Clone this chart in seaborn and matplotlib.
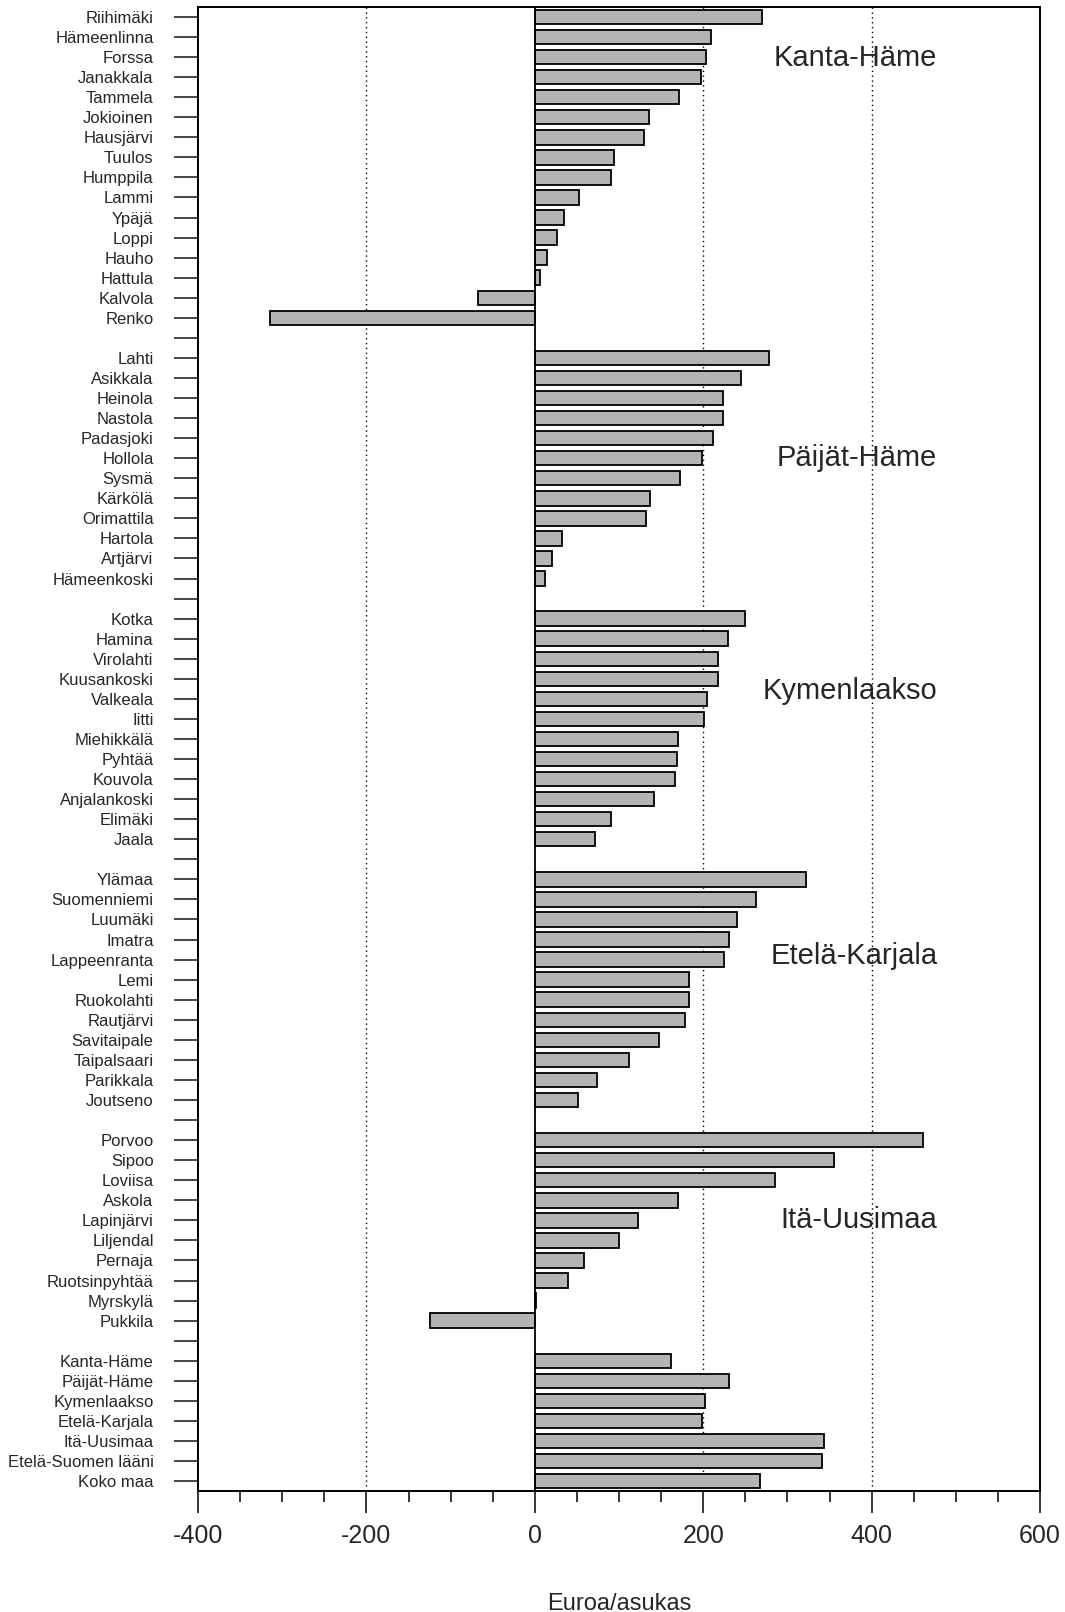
import pandas as pd
import matplotlib
matplotlib.use('Agg')
import matplotlib.pyplot as plt
from matplotlib.ticker import MultipleLocator
import seaborn as sns

# kunnat ryhmittäin, euroa/asukas
kanta_hame = ['Riihimäki', 'Hämeenlinna', 'Forssa', 'Janakkala', 'Tammela', 'Jokioinen',
              'Hausjärvi', 'Tuulos', 'Humppila', 'Lammi', 'Ypäjä', 'Loppi', 'Hauho',
              'Hattula', 'Kalvola', 'Renko']
kanta_hame_vals = [270, 209, 203, 197, 171, 136, 130, 94, 91, 52, 35, 26, 14, 6, -67, -315]

paijat_hame = ['Lahti', 'Asikkala', 'Heinola', 'Nastola', 'Padasjoki', 'Hollola', 'Sysmä',
               'Kärkölä', 'Orimattila', 'Hartola', 'Artjärvi', 'Hämeenkoski']
paijat_hame_vals = [278, 245, 224, 223, 212, 199, 172, 137, 132, 32, 20, 12]

kymenlaakso = ['Kotka', 'Hamina', 'Virolahti', 'Kuusankoski', 'Valkeala', 'Iitti',
               'Miehikkälä', 'Pyhtää', 'Kouvola', 'Anjalankoski', 'Elimäki', 'Jaala']
kymenlaakso_vals = [250, 229, 217, 217, 205, 201, 170, 169, 166, 141, 91, 71]

etela_karjala = ['Ylämaa', 'Suomenniemi', 'Luumäki', 'Imatra', 'Lappeenranta', 'Lemi',
                 'Ruokolahti', 'Rautjärvi', 'Savitaipale', 'Taipalsaari', 'Parikkala', 'Joutseno']
etela_karjala_vals = [322, 263, 240, 231, 225, 183, 183, 178, 148, 112, 74, 51]

ita_uusimaa = ['Porvoo', 'Sipoo', 'Loviisa', 'Askola', 'Lapinjärvi', 'Liljendal', 'Pernaja',
               'Ruotsinpyhtää', 'Myrskylä', 'Pukkila']
ita_uusimaa_vals = [461, 355, 285, 170, 123, 100, 58, 39, 1, -125]

yhteensa = ['Kanta-Häme', 'Päijät-Häme', 'Kymenlaakso', 'Etelä-Karjala', 'Itä-Uusimaa',
            'Etelä-Suomen lääni', 'Koko maa']
yhteensa_vals = [162, 231, 202, 198, 344, 341, 267]

maakunnat = ['Kanta-Häme', 'Päijät-Häme', 'Kymenlaakso', 'Etelä-Karjala', 'Itä-Uusimaa']

groups = [(kanta_hame, kanta_hame_vals), (paijat_hame, paijat_hame_vals),
          (kymenlaakso, kymenlaakso_vals), (etela_karjala, etela_karjala_vals),
          (ita_uusimaa, ita_uusimaa_vals), (yhteensa, yhteensa_vals)]

# rivit + tyhjät välirivit ryhmien väliin
order = []
rows = []
for i, (names, vals) in enumerate(groups):
    for n, v in zip(names, vals):
        key = n if i < 5 else n + ' '  # summary labels duplicate region names
        order.append(key)
        rows.append((key, v))
    if i < len(groups) - 1:
        order.append(' ' * (i + 3))
df = pd.DataFrame(rows, columns=['kunta', 'arvo'])

# maakuntanimien rivit kuvassa
label_rows = [2.05, 22.0, 33.6, 46.8, 60.0]

sns.set_style('ticks')
plt.rcParams['font.family'] = ['Liberation Sans', 'DejaVu Sans']
plt.rcParams['axes.unicode_minus'] = False

fig, ax = plt.subplots(figsize=(10.65, 16.12), dpi=100)
fig.subplots_adjust(left=0.186, right=0.9765, top=0.9957, bottom=0.075)

for v in [-200, 200, 400]:
    ax.axvline(v, color='black', ls=(0, (1, 2.5)), lw=1.0, zorder=0)

sns.barplot(data=df, x='arvo', y='kunta', order=order, color='#b4b4b4',
            edgecolor='black', linewidth=1.3, width=0.72, errorbar=None,
            saturation=1, ax=ax, zorder=2)
ax.axvline(0, color='black', lw=1.3, zorder=3)

for name, r in zip(maakunnat, label_rows):
    ax.text(478, r, name, ha='right', va='center', fontsize=21)

ax.set_xlim(-400, 600)
ax.set_ylim(len(order) - 0.5, -0.5)
ax.set_xticks([-400, -200, 0, 200, 400, 600])
ax.xaxis.set_minor_locator(MultipleLocator(50))
ax.tick_params(axis='x', which='major', length=16, width=1.3, pad=8, labelsize=18, direction='out')
ax.tick_params(axis='x', which='minor', length=8, width=1.3, direction='out')
ax.tick_params(axis='y', length=17, width=1.2, pad=15, labelsize=12, direction='out')
ax.set_yticks(range(len(order)))
ax.set_yticklabels([o.strip() for o in order])

ax.set_xlabel('Euroa/asukas', fontsize=17, labelpad=32)
ax.set_ylabel('')
for s in ax.spines.values():
    s.set_linewidth(1.4)
    s.set_color('black')

plt.savefig('out.png', dpi=100)
